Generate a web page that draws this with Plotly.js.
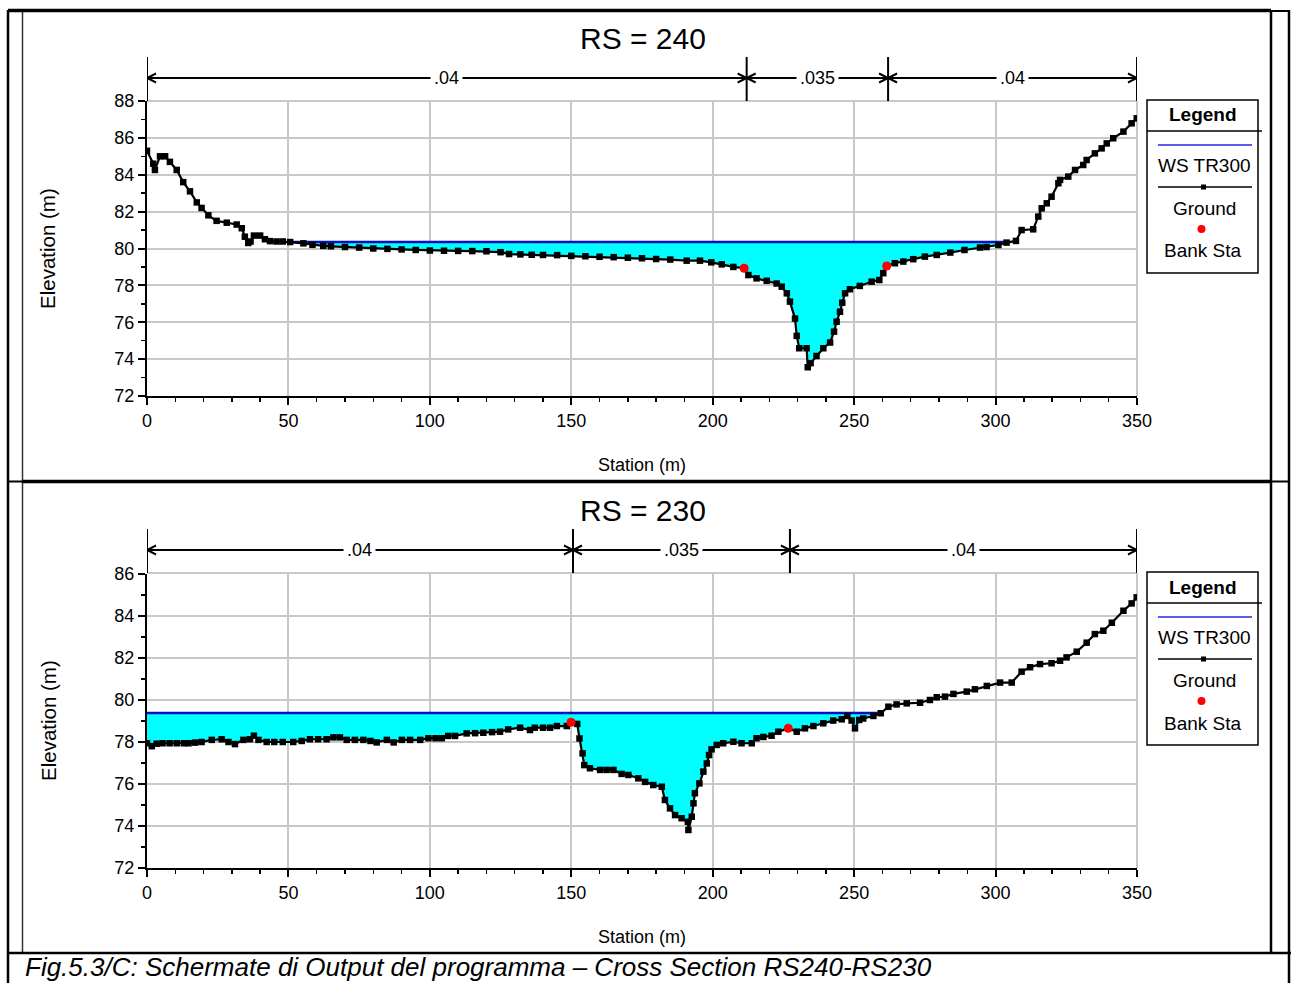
<!DOCTYPE html>
<html>
<head>
<meta charset="utf-8">
<script src="https://cdn.plot.ly/plotly-3.0.1.min.js"></script>
<style>html,body{margin:0;padding:0;background:#fff;}#chart{width:1291px;height:983px;}</style>
</head>
<body>
<div id="chart"></div>
<script>
// ---------------- DATA ----------------
// RS = 240
const ground240X = [0, 2.2, 2.8, 4.6, 6.4, 8.1, 10.5, 12.8, 15.2, 17.6, 19.3, 21.7, 24.6, 28.2, 31.7, 33.5, 34.6, 35.8, 36.6, 37.8, 40, 41.7, 43.5, 45.8, 48, 50.6, 55.3, 58.5, 62.3, 65, 70, 75, 80, 85, 90, 95, 100, 105, 110, 115, 120, 125, 128, 132, 136, 140, 145, 150, 155, 160, 165, 170, 175, 180, 185, 190.8, 195.5, 199.5, 203.2, 207.3, 211.1, 212.6, 215.5, 219.1, 222.6, 224.4, 226.2, 227.3, 229.1, 229.7, 230.6, 233.2, 233.6, 234.6, 236.7, 239.1, 241.5, 242.9, 243.8, 245, 245.8, 246.8, 248.5, 252, 256.2, 258.9, 260.3, 261.5, 264.4, 267.4, 270.9, 275, 279.2, 284, 289, 294.5, 296.8, 301, 303.9, 307.2, 309.2, 313.3, 315.1, 316.3, 318.1, 319.8, 322.2, 322.8, 325.7, 328.1, 331, 332.2, 335.1, 337.5, 339.3, 341.6, 345.2, 348.1, 349.9];
const ground240Y = [85.3, 84.6, 84.26, 85.0, 85.0, 84.7, 84.26, 83.6, 83.1, 82.5, 82.2, 81.8, 81.5, 81.4, 81.3, 81.1, 80.64, 80.3, 80.38, 80.7, 80.7, 80.5, 80.4, 80.38, 80.38, 80.35, 80.28, 80.2, 80.14, 80.12, 80.08, 80.05, 80.0, 79.98, 79.95, 79.92, 79.89, 79.88, 79.87, 79.86, 79.85, 79.8, 79.7, 79.68, 79.66, 79.65, 79.64, 79.6, 79.58, 79.55, 79.53, 79.5, 79.47, 79.43, 79.4, 79.34, 79.34, 79.25, 79.14, 79.0, 78.93, 78.56, 78.38, 78.25, 78.1, 77.93, 77.57, 77.12, 76.2, 75.26, 74.59, 74.59, 73.56, 73.78, 74.17, 74.59, 74.9, 75.49, 76.03, 76.57, 77.06, 77.57, 77.79, 77.97, 78.2, 78.29, 78.66, 79.05, 79.2, 79.29, 79.42, 79.56, 79.65, 79.78, 79.92, 80.05, 80.08, 80.19, 80.32, 80.41, 81.0, 81.04, 81.73, 82.18, 82.45, 82.81, 83.54, 83.72, 83.9, 84.26, 84.53, 84.8, 85.16, 85.43, 85.7, 85.98, 86.34, 86.79, 87.06];
const ws240 = 80.35;
const bank240X = [211.1, 261.5];
const bank240Y = [78.93, 79.05];
const nBounds240 = [0, 212, 262, 350];
const nValues240 = ['.04', '.035', '.04'];

// RS = 230
const ground230X = [0, 1.7, 3.4, 5.5, 8, 10.5, 13, 14.7, 17, 19.3, 22.9, 26.4, 28.8, 31.1, 34.1, 36.4, 37.8, 39.4, 42.3, 45, 48, 51.7, 54.7, 57.6, 60.5, 63.5, 65.9, 68.2, 70.6, 73.5, 76.5, 79, 81.2, 84.8, 87.2, 90.1, 93, 96.6, 99.5, 102, 104.2, 106.5, 108.9, 113, 116, 118.9, 122, 124.8, 127.7, 131.9, 135.4, 137.1, 140, 142.5, 144.9, 148.4, 149.9, 152.1, 152.9, 154, 154.6, 156.6, 160.2, 162.5, 164.9, 167.8, 170.2, 173.7, 176.1, 179, 182, 183.1, 184.9, 186.7, 189, 191.2, 191.4, 192.6, 193.2, 193.7, 195.3, 196.7, 197.9, 198.7, 199.6, 201.4, 203.7, 207.3, 210.2, 213.8, 215.5, 217.9, 220.8, 223.2, 226.7, 229.7, 232.6, 235.6, 239.1, 242.6, 245.6, 247.6, 249.1, 250.3, 251.8, 253.2, 256.8, 259.4, 262.1, 265, 268.6, 273.3, 276.8, 279.2, 282.1, 285.1, 289.8, 292.7, 296.9, 301.6, 305.7, 309.2, 312.2, 315.7, 319.8, 322.8, 325.1, 328.7, 332.2, 335.1, 338.1, 341.1, 345.2, 348.1, 349.9];
const ground230Y = [77.94, 77.8, 77.92, 77.94, 77.94, 77.94, 77.94, 77.94, 77.97, 78.0, 78.1, 78.13, 78.0, 77.9, 78.1, 78.13, 78.3, 78.1, 78.0, 78.0, 78.0, 78.0, 78.05, 78.13, 78.13, 78.13, 78.22, 78.22, 78.1, 78.1, 78.1, 78.05, 77.98, 78.1, 77.98, 78.1, 78.1, 78.1, 78.18, 78.18, 78.18, 78.29, 78.29, 78.41, 78.42, 78.44, 78.47, 78.49, 78.6, 78.68, 78.57, 78.68, 78.68, 78.68, 78.76, 78.76, 78.94, 78.86, 78.17, 77.46, 76.9, 76.75, 76.67, 76.67, 76.67, 76.48, 76.43, 76.27, 76.1, 75.95, 75.87, 75.24, 74.84, 74.52, 74.37, 74.2, 73.81, 74.44, 75.08, 75.56, 76.03, 76.59, 76.98, 77.38, 77.65, 77.86, 77.94, 78.01, 77.94, 77.94, 78.18, 78.24, 78.3, 78.49, 78.65, 78.49, 78.65, 78.76, 78.89, 79.02, 79.08, 79.24, 79.02, 78.65, 79.05, 79.12, 79.24, 79.37, 79.68, 79.79, 79.84, 79.87, 80.0, 80.13, 80.16, 80.29, 80.4, 80.51, 80.67, 80.83, 80.83, 81.35, 81.56, 81.71, 81.75, 81.87, 82.03, 82.3, 82.73, 83.14, 83.3, 83.68, 84.25, 84.6, 84.89];
const ws230 = 79.38;
const bank230X = [149.9, 226.7];
const bank230Y = [78.94, 78.65];
const nBounds230 = [0, 150.6, 227.3, 350];
const nValues230 = ['.04', '.035', '.04'];

const titles = ['RS = 240', 'RS = 230'];
const legendLabels = ['Legend', 'WS TR300', 'Ground', 'Bank Sta'];
const xTitle = 'Station (m)';
const yTitle = 'Elevation (m)';
const caption = 'Fig.5.3/C: Schermate di Output del programma – Cross Section RS240-RS230';

// ---------------- HELPERS ----------------
const W = 1291, H = 983;
const FONT = 'Liberation Sans, Arial, sans-serif';
const PX = x => x / W;
const PY = y => 1 - y / H;

function waterArrays(xs, gs, ws) {
  const X = [], G = [];
  for (let i = 0; i < xs.length; i++) {
    X.push(xs[i]); G.push(gs[i]);
    if (i < xs.length - 1 && (gs[i] - ws) * (gs[i + 1] - ws) < 0) {
      const t = (ws - gs[i]) / (gs[i + 1] - gs[i]);
      X.push(xs[i] + t * (xs[i + 1] - xs[i])); G.push(ws);
    }
  }
  const bottom = G.map(g => Math.min(g, ws));
  const top = G.map(() => ws);
  const line = G.map(g => (g <= ws ? ws : null));
  return { X, bottom, top, line };
}

const panels = [
  { gx: ground240X, gy: ground240Y, ws: ws240, bx: bank240X, by: bank240Y, nb: nBounds240, nv: nValues240, xa: 'x', ya: 'y', off: 0 },
  { gx: ground230X, gy: ground230Y, ws: ws230, bx: bank230X, by: bank230Y, nb: nBounds230, nv: nValues230, xa: 'x2', ya: 'y2', off: 472 }
];

const traces = [];
const shapes = [];
const annotations = [];
const pxPerUnit = 990 / 350;

panels.forEach((p, k) => {
  const w = waterArrays(p.gx, p.gy, p.ws);
  traces.push({ x: w.X, y: w.bottom, xaxis: p.xa, yaxis: p.ya, mode: 'lines', line: { width: 0, color: 'rgba(0,0,0,0)' }, hoverinfo: 'skip', showlegend: false });
  traces.push({ x: w.X, y: w.top, xaxis: p.xa, yaxis: p.ya, mode: 'lines', fill: 'tonexty', fillcolor: '#00ffff', line: { width: 0, color: 'rgba(0,0,0,0)' }, hoverinfo: 'skip', showlegend: false });
  traces.push({ x: w.X, y: w.line, xaxis: p.xa, yaxis: p.ya, mode: 'lines', connectgaps: false, line: { width: 2.5, color: '#0c0cc0' }, name: 'WS TR300', showlegend: false });
  traces.push({ x: p.gx, y: p.gy, xaxis: p.xa, yaxis: p.ya, mode: 'lines+markers', line: { width: 2.2, color: '#000' }, marker: { symbol: 'square', size: 6.5, color: '#000' }, name: 'Ground', showlegend: false });
  traces.push({ x: p.bx, y: p.by, xaxis: p.xa, yaxis: p.ya, mode: 'markers', marker: { symbol: 'circle', size: 9, color: '#ff0000' }, name: 'Bank Sta', showlegend: false });

  const o = p.off;
  const xr = p.xa;
  // n-value boundaries and arrows
  p.nb.forEach(b => {
    shapes.push({ type: 'line', xref: xr, yref: 'paper', x0: b, x1: b, y0: PY(57 + o), y1: PY(101 + o), line: { color: '#000', width: 2 } });
  });
  const ay = 78 + o;
  const dx = 9 / pxPerUnit;
  const hy = 4.5 / H;
  for (let i = 0; i < p.nv.length; i++) {
    const a = p.nb[i], b = p.nb[i + 1];
    shapes.push({ type: 'line', xref: xr, yref: 'paper', x0: a, x1: b, y0: PY(ay), y1: PY(ay), line: { color: '#000', width: 2 } });
    shapes.push({ type: 'path', xref: xr, yref: 'paper', path: `M${a + dx},${PY(ay) + hy} L${a},${PY(ay)} L${a + dx},${PY(ay) - hy}`, line: { color: '#000', width: 2 } });
    shapes.push({ type: 'path', xref: xr, yref: 'paper', path: `M${b - dx},${PY(ay) + hy} L${b},${PY(ay)} L${b - dx},${PY(ay) - hy}`, line: { color: '#000', width: 2 } });
    annotations.push({ xref: xr, yref: 'paper', x: (a + b) / 2, y: PY(ay), text: p.nv[i], showarrow: false, bgcolor: '#fff', borderpad: 3, font: { family: FONT, size: 18, color: '#000' }, xanchor: 'center', yanchor: 'middle' });
  }
  // top / right grid edges
  shapes.push({ type: 'line', xref: xr, yref: 'paper', x0: 0, x1: 350, y0: PY(101 + o), y1: PY(101 + o), layer: 'below', line: { color: '#c8c8c8', width: 2 } });
  shapes.push({ type: 'line', xref: 'paper', yref: 'paper', x0: PX(1137), x1: PX(1137), y0: PY(101 + o), y1: PY(396 + o), layer: 'below', line: { color: '#c8c8c8', width: 2 } });

  // titles
  annotations.push({ xref: 'paper', yref: 'paper', x: PX(643), y: PY(38 + o), text: titles[k], showarrow: false, font: { family: FONT, size: 30, color: '#000' }, xanchor: 'center', yanchor: 'middle' });
  annotations.push({ xref: 'paper', yref: 'paper', x: PX(642), y: PY(465 + o), text: xTitle, showarrow: false, font: { family: FONT, size: 18, color: '#000' }, xanchor: 'center', yanchor: 'middle' });
  annotations.push({ xref: 'paper', yref: 'paper', x: PX(48), y: PY(248 + o), text: yTitle, textangle: -90, showarrow: false, font: { family: FONT, size: 20.5, color: '#000' }, xanchor: 'center', yanchor: 'middle' });

  // legend box
  shapes.push({ type: 'rect', xref: 'paper', yref: 'paper', x0: PX(1147), x1: PX(1258), y0: PY(273 + o), y1: PY(100 + o), line: { color: '#000', width: 1.5 }, fillcolor: '#fff' });
  shapes.push({ type: 'line', xref: 'paper', yref: 'paper', x0: PX(1147), x1: PX(1262), y0: PY(131 + o), y1: PY(131 + o), line: { color: '#000', width: 1.5 } });
  shapes.push({ type: 'line', xref: 'paper', yref: 'paper', x0: PX(1158), x1: PX(1252), y0: PY(145 + o), y1: PY(145 + o), line: { color: '#2424e8', width: 1.5 } });
  shapes.push({ type: 'line', xref: 'paper', yref: 'paper', x0: PX(1158), x1: PX(1252), y0: PY(187 + o), y1: PY(187 + o), line: { color: '#000', width: 1.5 } });
  shapes.push({ type: 'rect', xref: 'paper', yref: 'paper', x0: PX(1201), x1: PX(1206), y0: PY(189.5 + o), y1: PY(184.5 + o), line: { width: 0 }, fillcolor: '#000' });
  shapes.push({ type: 'circle', xref: 'paper', yref: 'paper', x0: PX(1197.5), x1: PX(1205.5), y0: PY(233 + o), y1: PY(225 + o), line: { width: 0 }, fillcolor: '#ff0000' });
  annotations.push({ xref: 'paper', yref: 'paper', x: PX(1203), y: PY(115 + o), text: '<b>' + legendLabels[0] + '</b>', showarrow: false, font: { family: FONT, size: 19, color: '#000' }, xanchor: 'center', yanchor: 'middle' });
  annotations.push({ xref: 'paper', yref: 'paper', x: PX(1204), y: PY(165 + o), text: legendLabels[1], showarrow: false, font: { family: FONT, size: 19, color: '#000' }, xanchor: 'center', yanchor: 'middle' });
  annotations.push({ xref: 'paper', yref: 'paper', x: PX(1204), y: PY(208 + o), text: legendLabels[2], showarrow: false, font: { family: FONT, size: 19, color: '#000' }, xanchor: 'center', yanchor: 'middle' });
  annotations.push({ xref: 'paper', yref: 'paper', x: PX(1203), y: PY(251 + o), text: legendLabels[3], showarrow: false, font: { family: FONT, size: 19, color: '#000' }, xanchor: 'center', yanchor: 'middle' });
});

// page frame
function pline(x0, y0, x1, y1, w, c) {
  shapes.push({ type: 'line', xref: 'paper', yref: 'paper', x0: PX(x0), x1: PX(x1), y0: PY(y0), y1: PY(y1), line: { color: c || '#000', width: w } });
}
pline(8, 10, 8, 983, 2.5);
pline(1289, 10, 1289, 983, 2.5);
pline(22.5, 10, 22.5, 953, 1.5, '#333');
pline(1271, 10, 1271, 953, 2.5);
pline(8, 10.5, 1271, 10.5, 3.5);
pline(1271, 11, 1289, 11, 2);
pline(22, 481.5, 1271, 481.5, 3.5);
pline(8, 481.5, 22, 481.5, 2);
pline(1271, 481.5, 1289, 481.5, 2);
pline(8, 953, 1291, 953, 2.5);

annotations.push({ xref: 'paper', yref: 'paper', x: PX(24), y: PY(967), text: '<i>' + caption + '</i>', showarrow: false, font: { family: FONT, size: 26, color: '#000' }, xanchor: 'left', yanchor: 'middle', borderpad: 0 });

// ---------------- AXES ----------------
function xAxis(anchor) {
  return {
    anchor: anchor, domain: [PX(147), PX(1137)], range: [0, 350], dtick: 50, tick0: 0,
    showgrid: true, gridcolor: '#c8c8c8', gridwidth: 2, zeroline: false,
    showline: true, linecolor: '#000', linewidth: 2,
    ticks: 'outside', ticklen: 7, tickwidth: 2, tickcolor: '#000',
    minor: { dtick: 10, tick0: 0, ticks: 'outside', ticklen: 4, tickwidth: 1.5, tickcolor: '#000', showgrid: false },
    tickfont: { family: FONT, size: 18, color: '#000' }, fixedrange: true
  };
}
function yAxis(anchor, dom, rng) {
  return {
    anchor: anchor, domain: dom, range: rng, dtick: 2, tick0: 72,
    showgrid: true, gridcolor: '#c8c8c8', gridwidth: 2, zeroline: false,
    showline: true, linecolor: '#000', linewidth: 2,
    ticks: 'outside', ticklen: 7, tickwidth: 2, tickcolor: '#000',
    minor: { dtick: 1, tick0: 72, ticks: 'outside', ticklen: 4, tickwidth: 1.5, tickcolor: '#000', showgrid: false },
    tickfont: { family: FONT, size: 18, color: '#000' }, fixedrange: true
  };
}

const layout = {
  width: W, height: H,
  margin: { l: 0, r: 0, t: 0, b: 0 },
  paper_bgcolor: '#fff', plot_bgcolor: '#fff',
  showlegend: false,
  xaxis: xAxis('y'),
  yaxis: yAxis('x', [PY(396), PY(101)], [72, 88]),
  xaxis2: xAxis('y2'),
  yaxis2: yAxis('x2', [PY(868), PY(574)], [72, 86]),
  shapes: shapes,
  annotations: annotations
};

Plotly.newPlot('chart', traces, layout, { displayModeBar: false, staticPlot: true });
</script>
</body>
</html>
